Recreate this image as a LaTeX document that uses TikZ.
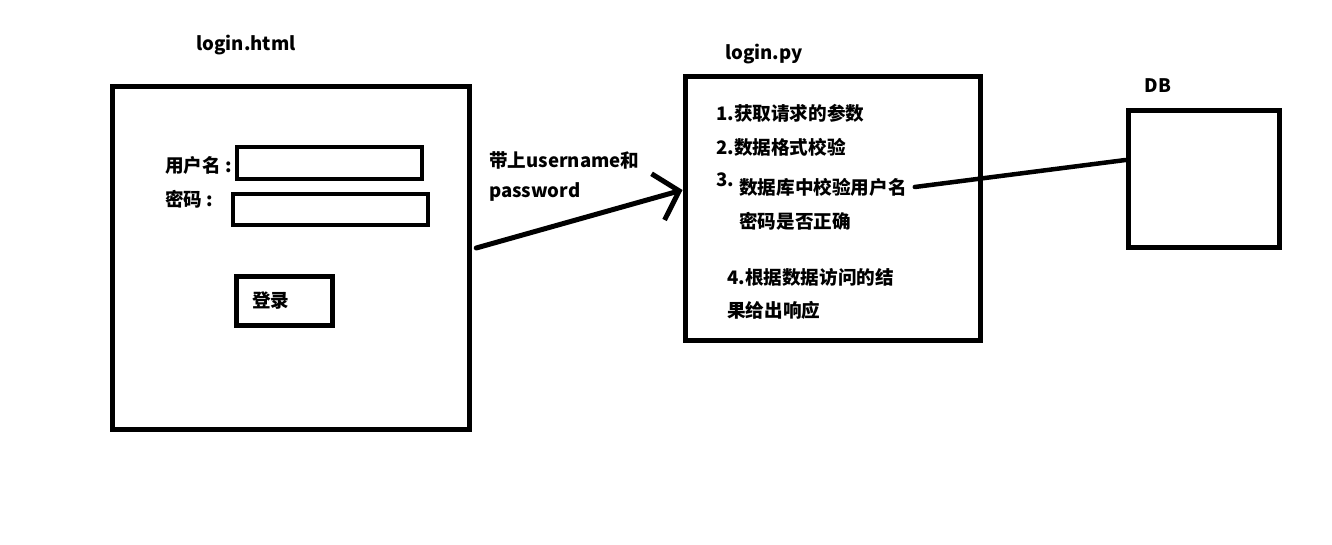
\documentclass[tikz,border=0pt]{standalone}
\usepackage{fontspec}
\setmainfont{Noto Sans CJK SC}
\usetikzlibrary{arrows.meta,positioning}

\begin{document}
\begin{tikzpicture}
[
x=1pt, y=-1pt,
every node/.style={font=\fontsize{18.6}{22}\selectfont\bfseries},
box/.style={rectangle, draw=black, line width=5pt, inner sep=0pt},
field/.style={rectangle, draw=black, line width=4pt, inner sep=0pt},
txt/.style={inner sep=0pt, anchor=west},
title/.style={inner sep=0pt},
link/.style={line width=5pt, line cap=round}
]
\useasboundingbox (0,0) rectangle (1332,545);
%Nodes
\node[box, minimum width=357pt, minimum height=343pt] (html) at (291.25,258) {};
\node[title]           (htmltitle) at (246,45)     {login.html};
\node[txt]             (userlbl)   at (165,165)    {用户名 :};
\node[txt]             (pwdlbl)    at (165,199)    {密码 :};
\node[field, minimum width=185pt, minimum height=32pt] (userfield) at (329.5,163) {};
\node[field, minimum width=195pt, minimum height=31pt] (pwdfield)  at (330.5,209.5) {};
\node[field, line width=4.5pt, minimum width=96pt, minimum height=49pt] (loginbtn) at (284.5,301) {};
\node[txt]             (btnlbl)    at (252,301)    {登录};

\node[txt]             (send1)     at (489,160)    {带上username和};
\node[txt]             (send2)     [below=32pt of send1.west, anchor=west] {password};

\node[box, minimum width=295pt, minimum height=264pt] (py) at (832.5,208.5) {};
\node[title]           (pytitle)   at (764,54)     {login.py};
\node[txt]             (step1)     at (716,113)    {1.获取请求的参数};
\node[txt]             (step2)     [below=34pt of step1.west, anchor=west] {2.数据格式校验};
\node[txt]             (step3)     [below=33pt of step2.west, anchor=west] {3.};
\node[txt]             (step3a)    at (739,187)    {数据库中校验用户名};
\node[txt]             (step3b)    [below=34pt of step3a.west, anchor=west] {密码是否正确};
\node[txt]             (step4a)    at (727,277)    {4.根据数据访问的结};
\node[txt]             (step4b)    [below=33pt of step4a.west, anchor=west] {果给出响应};

\node[box, minimum width=151.5pt, minimum height=137pt] (db) at (1203.75,179) {};
\node[title]           (dbtitle)   at (1158,86)    {DB};

%Lines
\draw[link, -{Straight Barb[length=22pt,width=48pt]}] ([xshift=4pt,yshift=10pt]html.east) -- ([yshift=18.5pt]py.west);
\draw[link, line width=4.5pt] ([xshift=8pt]step3a.east) -- ([yshift=19pt]db.west);
\end{tikzpicture}
\end{document}
